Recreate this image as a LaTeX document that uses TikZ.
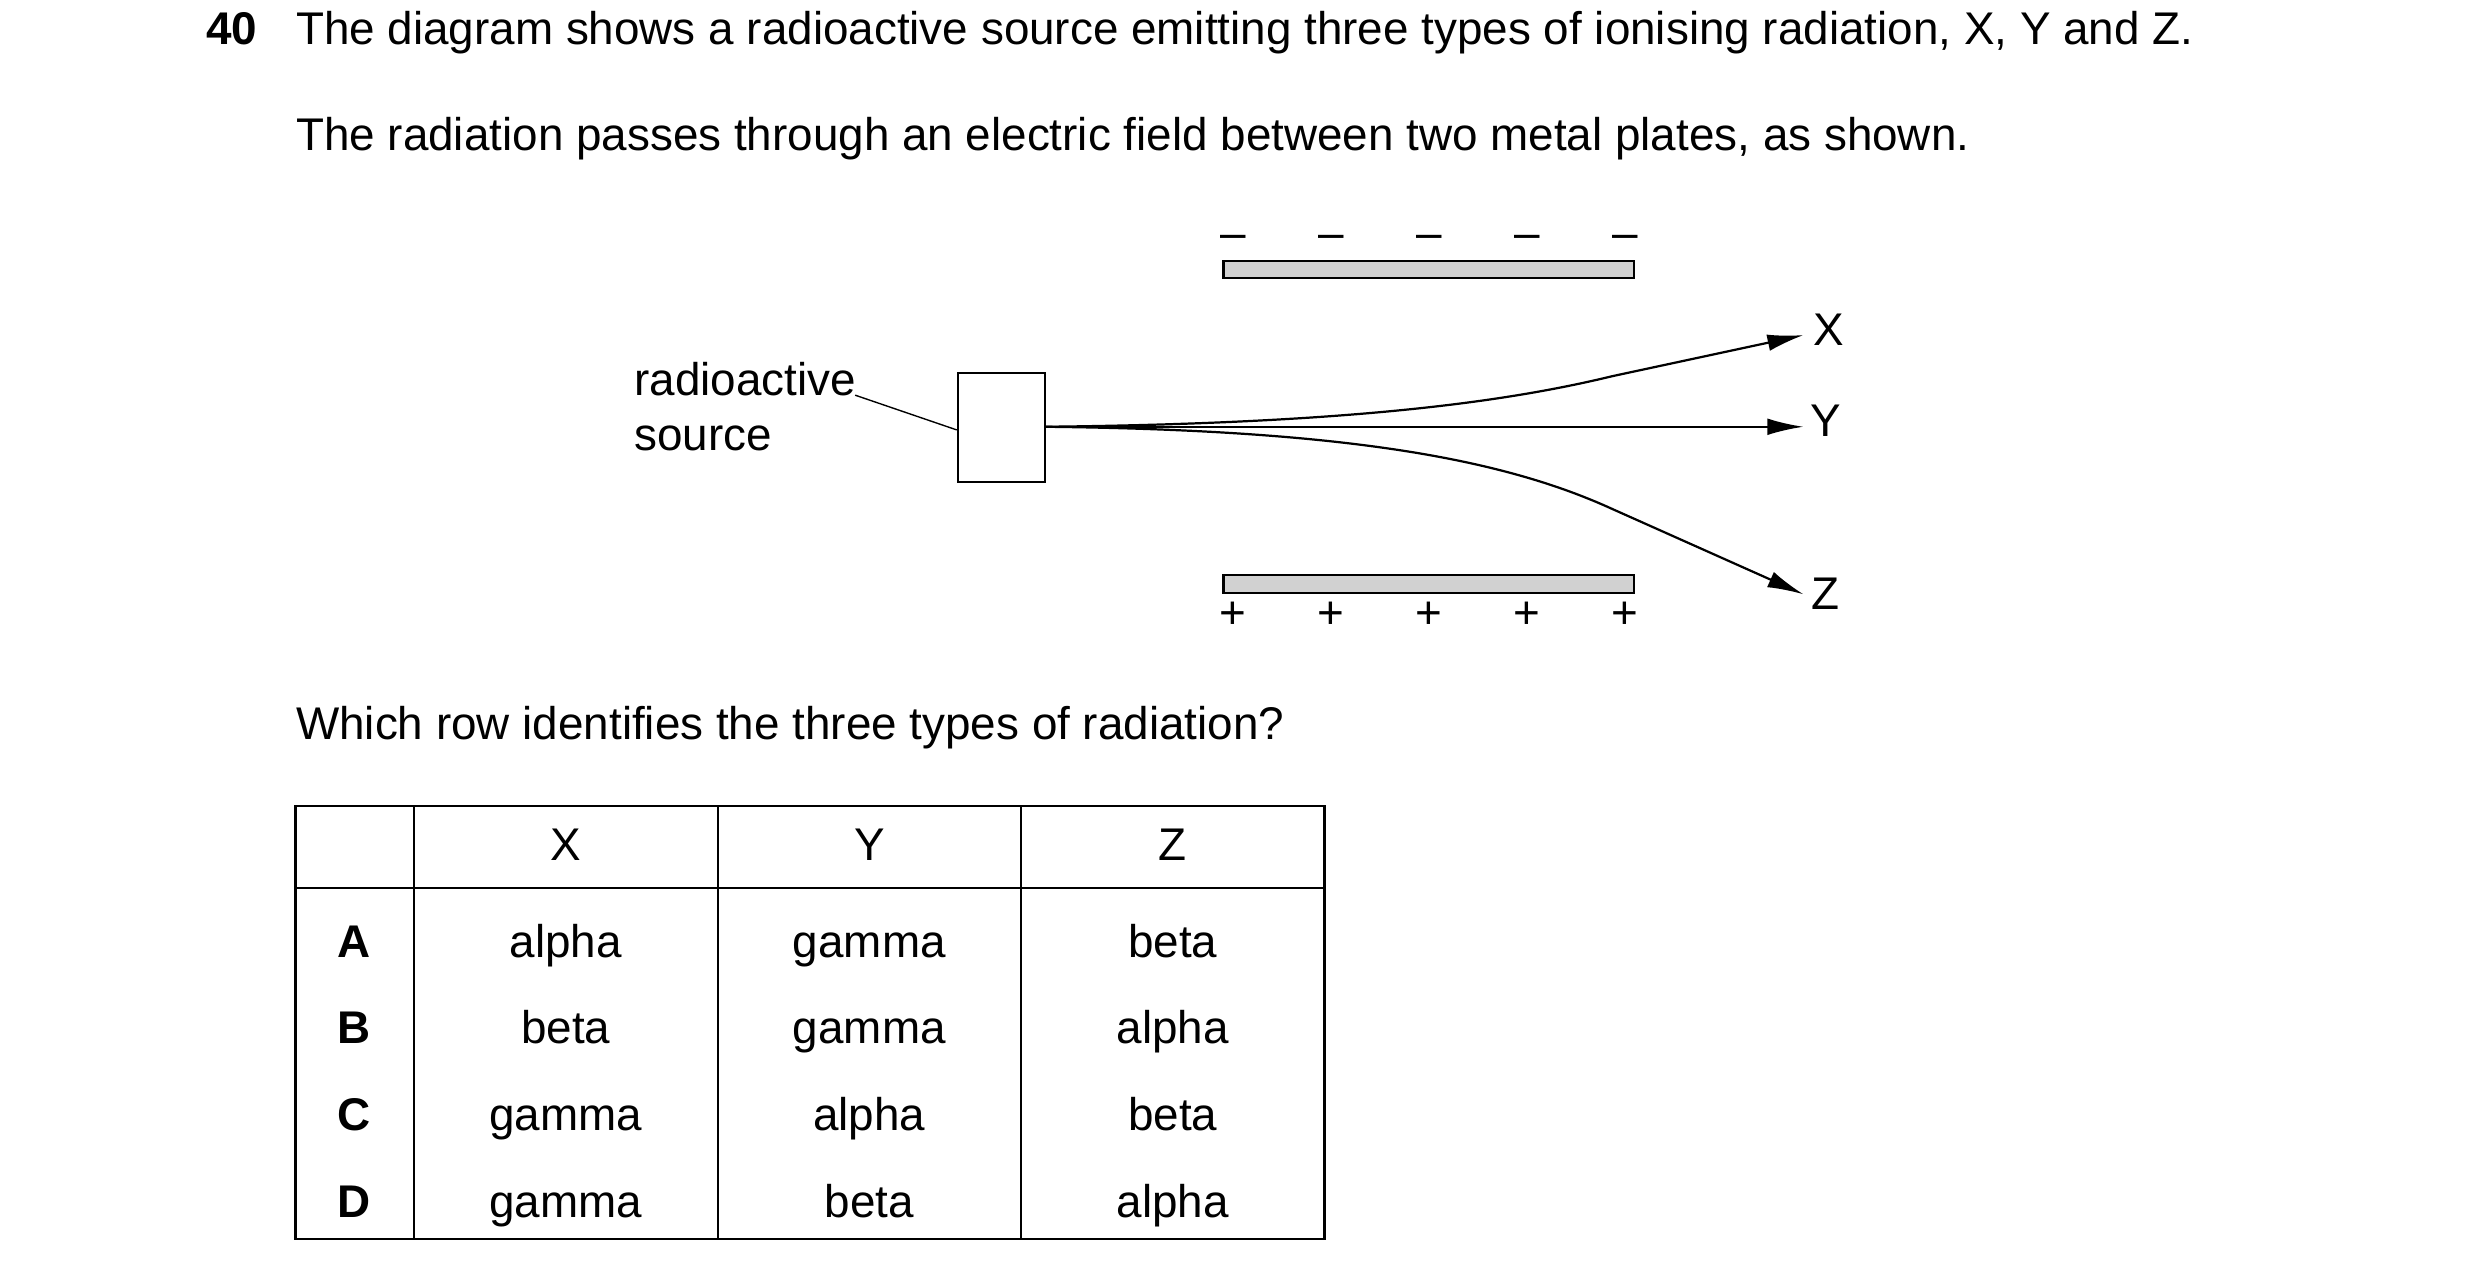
\documentclass[tikz,border=0pt]{standalone}
\usepackage{fontspec}
\setmainfont{Liberation Sans}
\usetikzlibrary{arrows.meta}
\begin{document}
\begin{tikzpicture}[x=0.02cm,y=-0.02cm,
    every node/.style={font=\fontsize{16.5}{20}\selectfont, inner sep=0pt, text height=12pt, text depth=3.5pt},
    plate/.style={draw, fill=black!18, line width=0.8pt},
    ray/.style={line width=0.8pt, -{Latex[length=13pt,width=6pt]}}]
    \useasboundingbox (0,0) rectangle (1569,801);

    % question text
    \node[anchor=base west, font=\fontsize{16.5}{20}\selectfont\bfseries] (num) at (130,28) {40};
    \node[anchor=base west] (q1) at (187,28) {The diagram shows a radioactive source emitting three types of ionising radiation, X, Y and Z.};
    \node[anchor=base west] (q2) at (187,95) {The radiation passes through an electric field between two metal plates, as shown.};

    % plates
    \draw[plate] (774,165) rectangle (1034,176);
    \draw[plate] (774,364) rectangle (1034,375);
    \foreach \x in {780,842,904,966,1028} {
        \node (m\x) at (\x,150) {\textendash};
        \node (p\x) at (\x,390) {+};
    }

    % source
    \node[draw, line width=0.8pt, minimum width=1.1cm, minimum height=1.38cm, text height=, text depth=] (src) at (633.5,270.5) {};
    \node[anchor=base west] (lab1) at (401,250) {radioactive};
    \node[anchor=base west] (lab2) at (401,285) {source};
    \coordinate (lead) at (541,250);
    \draw[line width=0.5pt] (lead) -- (src.west |- 0,272);

    % rays
    \coordinate (o) at (661,270);
    \coordinate (xe) at (1141,212);
    \coordinate (ye) at (1141,270);
    \coordinate (ze) at (1141,376);
    \draw[ray] (o) .. controls (850,268) and (950,255) .. (1020,238) -- (xe);
    \draw[ray] (o) -- (ye);
    \draw[ray] (o) .. controls (850,272) and (950,290) .. (1020,322) -- (ze);
    \node (X) at (1157,211) {X};
    \node (Y) at (1155,269) {Y};
    \node (Z) at (1155,378) {Z};

    \node[anchor=base west] (q3) at (187,468) {Which row identifies the three types of radiation?};

    % table
    \draw[line width=0.8pt] (187,510) rectangle (838,784);
    \draw[line width=0.8pt] (187,562) -- (838,562);
    \foreach \x in {262,454,646} \draw[line width=0.8pt] (\x,510) -- (\x,784);
    \node (hX) at (358,537) {X};
    \node (hY) at (550,537) {Y};
    \node (hZ) at (742,537) {Z};
    \foreach \r/\y/\a/\b/\c in {A/598/alpha/gamma/beta, B/653/beta/gamma/alpha, C/708/gamma/alpha/beta, D/763/gamma/beta/alpha} {
        \node[font=\fontsize{16.5}{20}\selectfont\bfseries] (r\r) at (224,\y) {\r};
        \node (a\r) at (358,\y) {\a};
        \node (b\r) at (550,\y) {\b};
        \node (c\r) at (742,\y) {\c};
    }
\end{tikzpicture}
\end{document}
